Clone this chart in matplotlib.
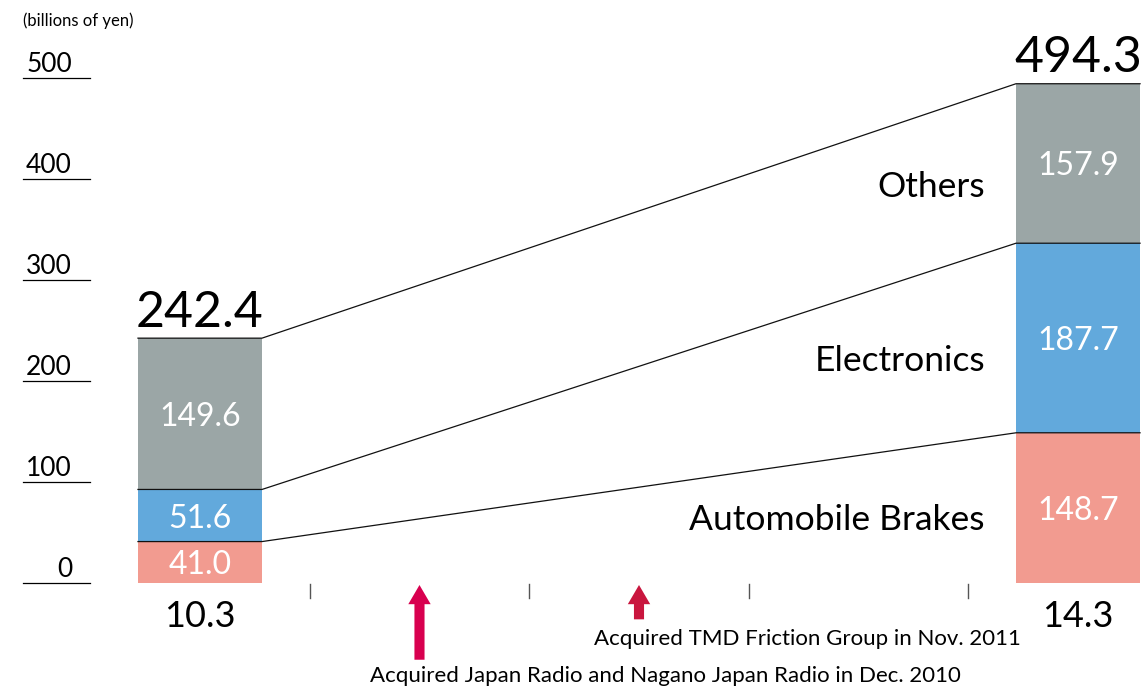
import matplotlib
matplotlib.use("Agg")
import matplotlib.pyplot as plt
from matplotlib.patches import FancyArrow

plt.rcParams['font.family'] = ['Lato', 'DejaVu Sans']

# Fiscal periods and segment sales (billions of yen)
periods = ["10.3", "14.3"]
segments = ["Automobile Brakes", "Electronics", "Others"]
brakes = [41.0, 148.7]
electronics = [51.6, 187.7]
others = [149.6, 157.9]
totals = [242.4, 494.3]
colors = ["#f29b90", "#62a9dc", "#9ba6a6"]

y_ticks = [0, 100, 200, 300, 400, 500]

# Acquisition events along the timeline (x in years after 10.3)
events = [
    (1.0, "Acquired Japan Radio and Nagano Japan Radio in Dec. 2010", "#d8004f", 76),
    (2.0, "Acquired TMD Friction Group in Nov. 2011", "#c9163e", 36),
]

fig = plt.figure(figsize=(11.43, 6.86), dpi=100)
ax = fig.add_axes([0, 0, 1, 1])
ax.set_xlim(-0.911, 4.296)
ax.set_ylim(-102, 577.2)
ax.axis("off")

xpos = [0.0, 4.0]
bar_w = 0.565

# Stacked bars
series = [brakes, electronics, others]
bottoms = [0.0, 0.0]
tops_by_level = []
for vals, col in zip(series, colors):
    ax.bar(xpos, vals, bottom=bottoms, width=bar_w, color=col, linewidth=0, zorder=2)
    centers = [b + v / 2 for b, v in zip(bottoms, vals)]
    for x, c, v in zip(xpos, centers, vals):
        ax.text(x, c, f"{v:.1f}", color="white", fontsize=23, ha="center", va="center_baseline", zorder=4)
    bottoms = [b + v for b, v in zip(bottoms, vals)]
    tops_by_level.append(list(bottoms))

# The last level uses stated totals for the top edge
tops_by_level[-1] = list(totals)

# Connector lines across bar tops and between bars
half = bar_w / 2
for tops in tops_by_level:
    ax.plot([xpos[0] - half, xpos[0] + half, xpos[1] - half, xpos[1] + half],
            [tops[0], tops[0], tops[1], tops[1]], color="#111111", lw=0.9, zorder=3)

# Totals above bars
for x, t in zip(xpos, totals):
    ax.text(x, t + 11.5, f"{t:.1f}", fontsize=36, ha="center", va="baseline", color="black")

# Period labels below bars
for x, p in zip(xpos, periods):
    ax.text(x, -43.5, p, fontsize=26, ha="center", va="baseline", color="black")

# Segment names beside the right bar
name_y = [52.5, 210, 382]
for name, y in zip(segments, name_y):
    ax.text(3.576, y, name, fontsize=25.5, ha="right", va="baseline", color="black")

# Y scale: labels with short rules
for t in y_ticks:
    ax.plot([-0.806, -0.501], [t, t], color="black", lw=0.9)
    ax.text(-0.583, t + 6, str(t), fontsize=19, ha="right", va="baseline", color="black")
ax.text(-0.806, 557, "(billions of yen)", fontsize=12, ha="left", va="center", color="black")

# Half-year tick marks on the timeline
for tx in [0.5, 1.5, 2.5, 3.5]:
    ax.plot([tx, tx], [-1, -15], color="#555555", lw=1.0)

# Event arrows and captions
for (ex, label, col, length), (tx, ty) in zip(events, [(0.774, -98), (1.795, -61.4)]):
    ax.add_patch(FancyArrow(ex, -length, 0, length - 2, width=0.046, head_width=0.102,
                            head_length=19, length_includes_head=True, color=col, lw=0))
    ax.text(tx, ty, label, fontsize=16, ha="left", va="baseline", color="black")

fig.savefig("out.png", dpi=100)
